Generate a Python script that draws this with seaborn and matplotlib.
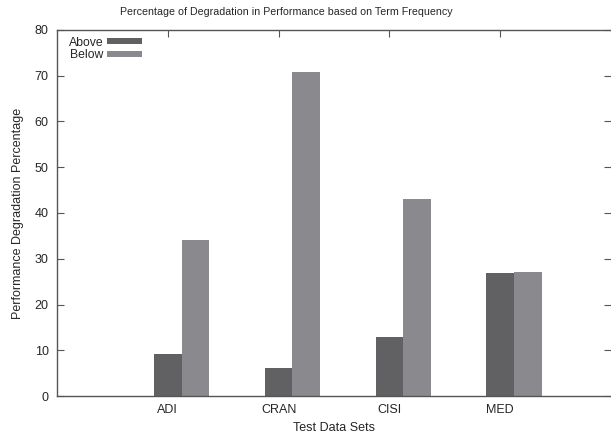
import pandas as pd
import matplotlib
matplotlib.use("Agg")
import matplotlib.pyplot as plt
import seaborn as sns

# --- data ---
datasets = ["ADI", "CRAN", "CISI", "MED"]
above = [9.2, 6.1, 12.8, 26.9]
below = [34.2, 70.8, 43.1, 27.2]
series = ["Above", "Below"]
colors = ["#616164", "#8a8a8e"]

df = pd.DataFrame({
    "dataset": datasets * 2,
    "value": above + below,
    "term": [series[0]] * len(datasets) + [series[1]] * len(datasets),
})

sns.set_style("white")
plt.rcParams["font.family"] = ["Liberation Sans", "DejaVu Sans"]

fig = plt.figure(figsize=(6.11, 4.37), dpi=100)
ax = fig.add_axes([0.0933, 0.0938, 0.9067, 0.8376])

sns.barplot(data=df, x="dataset", y="value", hue="term", order=datasets,
            hue_order=series, palette=colors, saturation=1, width=0.5,
            linewidth=0, ax=ax)

# labels sit under the first bar of each group, like the original gnuplot chart
ticks = [i - 0.125 for i in range(len(datasets))]
ax.set_xticks(ticks)
ax.set_xticklabels(datasets)
ax.set_xlim(-1.125, len(datasets) - 0.125)
ax.set_ylim(0, 80)
ax.set_yticks(range(0, 81, 10))

# gnuplot centred the title on the canvas, not on the axes
fig.text(0.469, 0.972, "Percentage of Degradation in Performance based on Term Frequency",
         ha="center", va="center", fontsize=7.7)
ax.set_xlabel("Test Data Sets", fontsize=9, labelpad=4)
ax.set_ylabel("Performance Degradation Percentage", fontsize=9, labelpad=8)

for s in ["left", "top", "bottom"]:
    ax.spines[s].set_color("#555555")
    ax.spines[s].set_linewidth(1.0)
ax.spines["right"].set_visible(False)

ax.tick_params(axis="y", direction="in", length=5, color="#555555",
               labelsize=9, left=True, right=True, pad=6)
ax.tick_params(axis="x", direction="in", length=5, color="#555555",
               labelsize=9, bottom=False, top=True, pad=6)

leg = ax.legend(loc="upper left", bbox_to_anchor=(0.021, 0.982), frameon=False,
                markerfirst=False, fontsize=8.8, handlelength=2.9,
                handleheight=0.45, handletextpad=0.3, labelspacing=0.05,
                borderaxespad=0, borderpad=0)

fig.savefig("out.png", dpi=100)
